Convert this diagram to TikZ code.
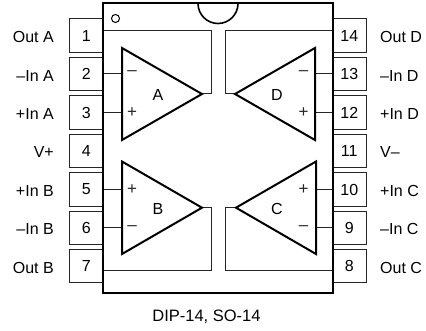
\documentclass[tikz,border=0pt]{standalone}
\usepackage{fontspec}
\setmainfont{Liberation Sans}
\begin{document}
\begin{tikzpicture}[x=1pt,y=-1pt,
  txt/.style={font=\fontsize{16}{18}\selectfont,inner sep=0pt},
  pinbox/.style={draw=black!85,line width=1pt,minimum width=33.5pt,minimum height=33.2pt,inner sep=0pt,font=\fontsize{16}{18}\selectfont},
  heavy/.style={line width=2pt,line join=miter},
  wire/.style={draw=black!85,line width=1pt},
  sgn/.style={font=\fontsize{17}{18}\selectfont,inner sep=0pt,text=black!85}]
\useasboundingbox (0,0) rectangle (426,331);
% pins
\foreach \n/\y in {1/35.5,2/74,3/112.5,4/151,5/189.5,6/228,7/266.3}{
  \node[pinbox] (p\n) at (86.25,\y) {\n};}
\foreach \n/\y in {14/35.5,13/74,12/112.5,11/151,10/189.5,9/228,8/266.3}{
  \node[pinbox] (p\n) at (349.25,\y) {\n};}
% pin names
\node[txt,anchor=east] (lA) at (54,37) {Out A};
\node[txt,anchor=east] (l2) at (54,75.5) {–In A};
\node[txt,anchor=east] (l3) at (54,113.5) {+In A};
\node[txt,anchor=east] (l4) at (54,152) {V+};
\node[txt,anchor=east] (l5) at (54,190.5) {+In B};
\node[txt,anchor=east] (l6) at (54,229) {–In B};
\node[txt,anchor=east] (l7) at (54,267.5) {Out B};
\node[txt,anchor=west] (l14) at (380,37) {Out D};
\node[txt,anchor=west] (l13) at (380,75.5) {–In D};
\node[txt,anchor=west] (l12) at (380,113.5) {+In D};
\node[txt,anchor=west] (l11) at (380,152) {V–};
\node[txt,anchor=west] (l10) at (380,190.5) {+In C};
\node[txt,anchor=west] (l9) at (380,229) {–In C};
\node[txt,anchor=west] (l8) at (380,267.5) {Out C};
% amplifier corners
\coordinate (aT) at (122,48); \coordinate (aB) at (122,140); \coordinate (aO) at (202,94);
\coordinate (bT) at (122,161.5); \coordinate (bB) at (122,254); \coordinate (bO) at (202,207.7);
\coordinate (dT) at (315,48); \coordinate (dB) at (315,140); \coordinate (dO) at (235,94);
\coordinate (cT) at (316,161.5); \coordinate (cB) at (316,254); \coordinate (cO) at (236,207.7);
% output routing
\coordinate (aX) at (211,94); \coordinate (aY) at (211,31); \coordinate (aE) at (103,31);
\coordinate (bX) at (211,207.7); \coordinate (bY) at (211,271); \coordinate (bE) at (103,271);
\coordinate (dX) at (225,94); \coordinate (dY) at (225,31); \coordinate (dE) at (332.5,31);
\coordinate (cX) at (225,207.7); \coordinate (cY) at (225,271); \coordinate (cE) at (332.5,271);
\draw[wire] (aO) -- (aX) -- (aY) -- (aE);
\draw[wire] (bO) -- (bX) -- (bY) -- (bE);
\draw[wire] (dO) -- (dX) -- (dY) -- (dE);
\draw[wire] (cO) -- (cX) -- (cY) -- (cE);
% input wires
\draw[wire] (p2.east) -- (p2.east -| aT);
\draw[wire] (p3.east) -- (p3.east -| aT);
\draw[wire] (p5.east) -- (p5.east -| bT);
\draw[wire] (p6.east) -- (p6.east -| bT);
\draw[wire] (p13.west) -- (p13.west -| dT);
\draw[wire] (p12.west) -- (p12.west -| dT);
\draw[wire] (p10.west) -- (p10.west -| cT);
\draw[wire] (p9.west) -- (p9.west -| cT);
% amplifiers
\draw[heavy] (aT) -- (aO) -- (aB) -- cycle;
\draw[heavy] (bT) -- (bO) -- (bB) -- cycle;
\draw[heavy] (dT) -- (dO) -- (dB) -- cycle;
\draw[heavy] (cT) -- (cO) -- (cB) -- cycle;
\node[txt] (nA) at (158,94.5) {A};
\node[txt] (nB) at (158,209) {B};
\node[txt] (nD) at (277,94.5) {D};
\node[txt] (nC) at (277,209) {C};
\node[sgn] (sa1) at (132,73.5) {–};
\node[sgn] (sa2) at (132,113) {+};
\node[sgn] (sb1) at (132,189.5) {+};
\node[sgn] (sb2) at (132,228.5) {–};
\node[sgn] (sd1) at (303.5,73.5) {–};
\node[sgn] (sd2) at (303.5,113) {+};
\node[sgn] (sc1) at (303.5,189.5) {+};
\node[sgn] (sc2) at (303.5,228.5) {–};
% package
\draw[heavy] (103,3.5) rectangle (332.5,293);
\draw[line width=1.6pt] (198,3.5) arc[start angle=180,end angle=0,radius=20];
\draw[line width=1pt] (115.5,18.5) circle[radius=4];
\node[txt,font=\fontsize{16.5}{18}\selectfont] (cap) at (206.5,316.5) {DIP-14, SO-14};
\end{tikzpicture}
\end{document}
